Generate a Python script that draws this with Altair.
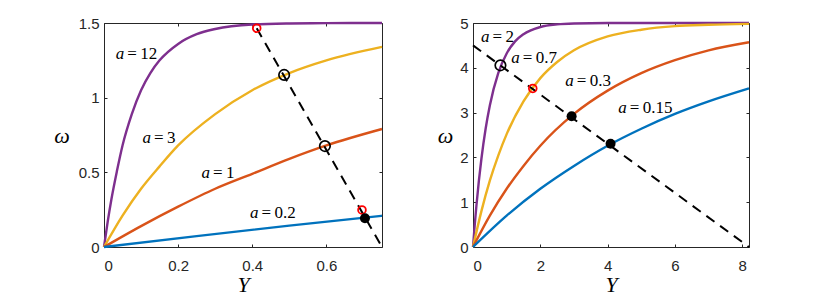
import altair as alt
import pandas as pd

# ---------------- data ----------------
# Left panel: omega vs Y for a = 12, 3, 1, 0.2
L_a12_Y = [0, 0.01, 0.02, 0.035, 0.05, 0.075, 0.1, 0.125, 0.15, 0.2, 0.25, 0.3, 0.4, 0.5, 0.6, 0.75]
L_a12_w = [0, 0.17, 0.32, 0.51, 0.68, 0.89, 1.05, 1.165, 1.25, 1.36, 1.425, 1.46, 1.49, 1.497, 1.499, 1.5]
L_a3_Y = [0, 0.05, 0.1, 0.15, 0.2, 0.3, 0.4, 0.5, 0.6, 0.75]
L_a3_w = [0, 0.21, 0.39, 0.54, 0.68, 0.89, 1.05, 1.165, 1.25, 1.34]
L_a1_Y = [0, 0.1, 0.2, 0.3, 0.4, 0.5, 0.6, 0.75]
L_a1_w = [0, 0.14, 0.27, 0.39, 0.49, 0.59, 0.68, 0.79]
L_a02_Y = [0, 0.25, 0.5, 0.75]
L_a02_w = [0, 0.073, 0.143, 0.209]
L_dash_Y = [0.412, 0.75]
L_dash_w = [1.465, 0.0]
L_red_Y = [0.412, 0.696]
L_red_w = [1.465, 0.248]
L_open_Y = [0.486, 0.596]
L_open_w = [1.152, 0.676]
L_fill_Y = [0.704]
L_fill_w = [0.192]
L_lab_a = ["12", "3", "1", "0.2"]
L_lab_Y = [0.0547, 0.127, 0.286, 0.417]
L_lab_w = [1.295, 0.728, 0.498, 0.230]
L_xticks = [0, 0.2, 0.4, 0.6]
L_yticks = [0, 0.5, 1, 1.5]

# Right panel: omega vs Y for a = 2, 0.7, 0.3, 0.15
R_a2_Y = [0, 0.05, 0.1, 0.175, 0.25, 0.375, 0.5, 0.75, 1, 1.25, 1.5, 2, 2.5, 3, 4, 8.2]
R_a2_w = [0, 0.48, 0.91, 1.48, 1.97, 2.64, 3.16, 3.88, 4.32, 4.59, 4.75, 4.91, 4.97, 4.99, 5.0, 5.0]
R_a07_Y = [0, 0.25, 0.5, 0.75, 1, 1.5, 2, 2.5, 3, 4, 5, 6, 7, 8.2]
R_a07_w = [0, 0.80, 1.48, 2.04, 2.52, 3.25, 3.77, 4.13, 4.39, 4.70, 4.85, 4.93, 4.96, 4.98]
R_a03_Y = [0, 0.5, 1, 1.5, 2, 3, 4, 5, 6, 7, 8.2]
R_a03_w = [0, 0.70, 1.30, 1.81, 2.26, 2.97, 3.49, 3.88, 4.17, 4.39, 4.57]
R_a015_Y = [0, 1, 2, 3, 4, 5, 6, 7, 8.2]
R_a015_w = [0, 0.70, 1.30, 1.81, 2.26, 2.64, 2.97, 3.25, 3.54]
R_dash_Y = [0, 8.2]
R_dash_w = [4.5, 0.0]
R_red_Y = [1.776]
R_red_w = [3.54]
R_open_Y = [0.815]
R_open_w = [4.056]
R_fill_Y = [2.93, 4.087]
R_fill_w = [2.92, 2.306]
R_lab_a = ["2", "0.7", "0.3", "0.15"]
R_lab_Y = [0.488, 1.39, 2.99, 4.57]
R_lab_w = [4.69, 4.21, 3.705, 3.11]
R_xticks = [0, 2, 4, 6, 8]
R_yticks = [0, 1, 2, 3, 4, 5]

PURPLE, YELLOW, ORANGE, BLUE = "#7E2F8E", "#EDB120", "#D95319", "#0072BD"
AX = "#262626"
H = 224


def df(xs, ys, **kw):
    d = pd.DataFrame({"Y": xs, "w": ys})
    for k, v in kw.items():
        d[k] = v
    return d


def panel(curves, dash, red, opn, fill, labs, xdom, ydom, xt, yt, W, wtx):
    cdf = pd.concat([df(x, y, a=n, o=i) for i, (x, y, n) in enumerate(curves)], ignore_index=True)
    names = [c[2] for c in curves]
    cols = [PURPLE, YELLOW, ORANGE, BLUE]
    xs = alt.Scale(domain=xdom, nice=False, zero=False)
    ys = alt.Scale(domain=ydom, nice=False, zero=False)
    common = dict(grid=False, domainColor=AX, tickColor=AX, labelColor=AX,
                  labelFont="Liberation Sans", labelFontSize=15, domainWidth=1, tickWidth=1)
    tfont = dict(titleFont="Liberation Serif", titleFontStyle="italic", titleFontWeight="normal",
                 titleFontSize=22, titleColor="#000000", titleAlign="center", titleBaseline="middle")

    curves_l = alt.Chart(cdf).mark_line(strokeWidth=2.4, interpolate="monotone").encode(
        x=alt.X("Y:Q", scale=xs, axis=alt.Axis(orient="bottom", values=xt, format="~g", ticks=False,
                                              labelPadding=11, title="Y", titleX=W / 2, titleY=37,
                                              **common, **tfont)),
        y=alt.Y("w:Q", scale=ys, axis=alt.Axis(orient="left", values=yt, format="~g", ticks=False,
                                              labelPadding=5, title="ω", titleAngle=0, titleX=wtx,
                                              titleY=H / 2, **common, **tfont)),
        color=alt.Color("a:N", scale=alt.Scale(domain=names, range=cols), legend=None),
        detail="a:N",
    )
    dash_l = alt.Chart(df(*dash)).mark_line(color="black", strokeWidth=2, strokeDash=[10, 7]).encode(
        x=alt.X("Y:Q", scale=xs, axis=alt.Axis(orient="top", offset=-H, values=xt, labels=False,
                                              domain=False, tickSize=3, title=None, **common)),
        y=alt.Y("w:Q", scale=ys, axis=alt.Axis(orient="right", offset=-W, values=yt, labels=False,
                                              domain=False, tickSize=3, title=None, **common)),
    )
    red_l = alt.Chart(df(*red)).mark_point(shape="circle", filled=False, color="#FF0000",
                                           size=60, strokeWidth=1.8, opacity=1).encode(
        x=alt.X("Y:Q", scale=xs, axis=alt.Axis(orient="bottom", offset=-H, values=xt, labels=False,
                                              domain=True, tickSize=3, title=None, **common)),
        y=alt.Y("w:Q", scale=ys, axis=alt.Axis(orient="left", offset=-W, values=yt, labels=False,
                                              domain=True, tickSize=3, title=None, **common)),
    )
    open_l = alt.Chart(df(*opn)).mark_point(shape="circle", filled=False, color="black",
                                            size=110, strokeWidth=1.7, opacity=1).encode(
        x=alt.X("Y:Q", scale=xs, axis=None), y=alt.Y("w:Q", scale=ys, axis=None))
    fill_l = alt.Chart(df(*fill)).mark_point(shape="circle", filled=True, color="black",
                                             size=100, opacity=1).encode(
        x=alt.X("Y:Q", scale=xs, axis=None), y=alt.Y("w:Q", scale=ys, axis=None))
    ldf = pd.DataFrame({"Y": labs[1], "w": labs[2], "t": ["=\u2009" + s for s in labs[0]], "a": "a"})
    lab_a = alt.Chart(ldf).mark_text(font="Liberation Serif", fontStyle="italic", fontSize=17,
                                     align="right", baseline="middle", color="black").encode(
        x=alt.X("Y:Q", scale=xs, axis=None), y=alt.Y("w:Q", scale=ys, axis=None), text="a:N")
    lab_t = alt.Chart(ldf).mark_text(font="Liberation Serif", fontSize=17, dx=3,
                                     align="left", baseline="middle", color="black").encode(
        x=alt.X("Y:Q", scale=xs, axis=None), y=alt.Y("w:Q", scale=ys, axis=None), text="t:N")
    return alt.layer(curves_l, dash_l, red_l, open_l, fill_l, lab_a, lab_t).resolve_axis(
        x="independent", y="independent").properties(width=W, height=H)


left = panel(
    [(L_a12_Y, L_a12_w, "12"), (L_a3_Y, L_a3_w, "3"), (L_a1_Y, L_a1_w, "1"), (L_a02_Y, L_a02_w, "0.2")],
    (L_dash_Y, L_dash_w), (L_red_Y, L_red_w), (L_open_Y, L_open_w), (L_fill_Y, L_fill_w),
    (L_lab_a, L_lab_Y, L_lab_w), [0, 0.75], [0, 1.5], L_xticks, L_yticks, 278, -42.5)
right = panel(
    [(R_a2_Y, R_a2_w, "2"), (R_a07_Y, R_a07_w, "0.7"), (R_a03_Y, R_a03_w, "0.3"), (R_a015_Y, R_a015_w, "0.15")],
    (R_dash_Y, R_dash_w), (R_red_Y, R_red_w), (R_open_Y, R_open_w), (R_fill_Y, R_fill_w),
    (R_lab_a, R_lab_Y, R_lab_w), [0, 8.2], [0, 5], R_xticks, R_yticks, 276, -28)

chart = alt.hconcat(left, right, spacing=48).properties(
    padding={"left": 45, "top": 7, "right": 0, "bottom": 0}
).configure_view(stroke=None).configure(background="white")

chart.save("out.html", embed_options={"renderer": "svg", "actions": False})
